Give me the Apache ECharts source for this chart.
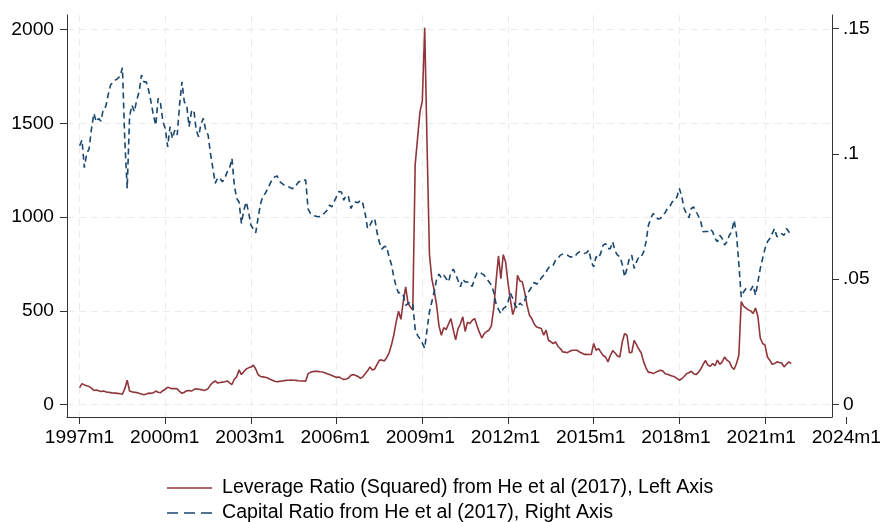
<!DOCTYPE html>
<html>
<head>
<meta charset="utf-8">
<style>
  html, body { margin: 0; padding: 0; background: #fff; }
  #chart { width: 884px; height: 522px; }
</style>
<script src="https://cdn.jsdelivr.net/npm/echarts@6/dist/echarts.min.js"></script>
</head>
<body>
<div id="chart"></div>
<script>
// monthly data, first point is 1997m1
const startYear = 1997

// leverage ratio (squared), left axis - one row per year
const leverage = [
  90, 112, 105, 100, 96, 88, 75, 78, 74, 70, 72, 68,
  66, 64, 62, 61, 60, 58, 55, 85, 130, 72, 68, 66,
  64, 60, 57, 53, 56, 61, 60, 63, 72, 66, 64, 74,
  82, 92, 88, 85, 86, 84, 70, 60, 66, 74, 75, 72,
  80, 84, 82, 80, 76, 78, 85, 105, 118, 126, 115, 118,
  120, 122, 126, 116, 107, 135, 148, 185, 160, 175, 190, 196,
  200, 210, 190, 160, 150, 148, 146, 142, 135, 130, 125, 122,
  124, 126, 128, 130, 130, 131, 130, 129, 127, 126, 126, 125,
  165, 172, 176, 178, 177, 175, 174, 170, 165, 160, 155, 150,
  145, 147, 140, 134, 137, 142, 157, 160, 155, 150, 140, 148,
  165, 180, 201, 185, 190, 215, 237, 238, 233, 250, 275, 316,
  370, 440, 498, 455, 550, 628, 540, 521, 505, 1280, 1420, 1560,
  1620, 2010, 1380, 800, 670, 610, 530, 420, 370, 410, 400, 430,
  459, 400, 345, 405, 430, 468, 390, 440, 432, 450, 459, 420,
  385, 355, 379, 390, 397, 420, 512, 660, 793, 672, 800, 761,
  650, 560, 480, 520, 690, 660, 655, 600, 530, 477, 459, 430,
  414, 410, 406, 370, 397, 343, 335, 326, 334, 310, 299, 281,
  280, 277, 285, 290, 290, 290, 281, 275, 268, 268, 267, 268,
  326, 290, 299, 280, 262, 254, 228, 262, 288, 275, 259, 254,
  334, 379, 370, 277, 278, 343, 320, 295, 275, 228, 195, 172,
  172, 165, 172, 178, 183, 180, 165, 162, 157, 152, 148, 140,
  130, 138, 150, 165, 170, 178, 165, 160, 172, 190, 215, 235,
  210, 205, 219, 207, 237, 214, 228, 254, 237, 228, 201, 187,
  219, 263, 550, 525, 515, 505, 500, 486, 515, 470, 355, 326,
  317, 254, 237, 215, 219, 228, 225, 222, 201, 215, 228, 219
]

// capital ratio, right axis - one row per year
const capitalRatio = [
  0.1032, 0.1055, 0.0945, 0.1001, 0.1020, 0.1101, 0.1161, 0.1128, 0.1141, 0.1130, 0.1181, 0.1188,
  0.1235, 0.1274, 0.1285, 0.1294, 0.1300, 0.1310, 0.1343, 0.1050, 0.0862, 0.1150, 0.1194, 0.1168,
  0.1214, 0.1247, 0.1314, 0.1287, 0.1287, 0.1254, 0.1207, 0.1154, 0.1114, 0.1221, 0.1201, 0.1128,
  0.1101, 0.1028, 0.1108, 0.1061, 0.1094, 0.1075, 0.1194, 0.1287, 0.1207, 0.1194, 0.1108, 0.1168,
  0.1175, 0.1094, 0.1068, 0.1120, 0.1141, 0.1094, 0.1075, 0.1000, 0.0942, 0.0882, 0.0905, 0.0902,
  0.0888, 0.0902, 0.0928, 0.0942, 0.0982, 0.0875, 0.0822, 0.0808, 0.0722, 0.0775, 0.0808, 0.0768,
  0.0715, 0.0700, 0.0685, 0.0745, 0.0800, 0.0830, 0.0842, 0.0860, 0.0880, 0.0900, 0.0908, 0.0912,
  0.0890, 0.0882, 0.0875, 0.0870, 0.0868, 0.0862, 0.0862, 0.0875, 0.0888, 0.0892, 0.0895, 0.0895,
  0.0780, 0.0762, 0.0755, 0.0752, 0.0749, 0.0750, 0.0755, 0.0765, 0.0775, 0.0795, 0.0788, 0.0810,
  0.0830, 0.0850, 0.0848, 0.0815, 0.0835, 0.0828, 0.0782, 0.0802, 0.0808, 0.0805, 0.0815, 0.0802,
  0.0760, 0.0702, 0.0715, 0.0735, 0.0742, 0.0685, 0.0645, 0.0620, 0.0630, 0.0630, 0.0590, 0.0560,
  0.0510, 0.0470, 0.0445, 0.0448, 0.0436, 0.0396, 0.0403, 0.0409, 0.0400, 0.0300, 0.0276, 0.0262,
  0.0245, 0.0225, 0.0300, 0.0370, 0.0410, 0.0450, 0.0500, 0.0520, 0.0505, 0.0516, 0.0503, 0.0489,
  0.0525, 0.0540, 0.0520, 0.0495, 0.0470, 0.0500, 0.0489, 0.0489, 0.0476, 0.0472, 0.0503, 0.0525,
  0.0529, 0.0522, 0.0516, 0.0503, 0.0490, 0.0476, 0.0449, 0.0400, 0.0380, 0.0363, 0.0383, 0.0390,
  0.0409, 0.0445, 0.0423, 0.0395, 0.0385, 0.0405, 0.0396, 0.0416, 0.0440, 0.0455, 0.0470, 0.0487,
  0.0480, 0.0490, 0.0505, 0.0516, 0.0529, 0.0545, 0.0556, 0.0556, 0.0576, 0.0583, 0.0596, 0.0600,
  0.0600, 0.0596, 0.0589, 0.0589, 0.0589, 0.0602, 0.0609, 0.0606, 0.0602, 0.0606, 0.0616, 0.0569,
  0.0549, 0.0590, 0.0583, 0.0605, 0.0636, 0.0642, 0.0622, 0.0622, 0.0649, 0.0612, 0.0596, 0.0590,
  0.0560, 0.0509, 0.0543, 0.0583, 0.0596, 0.0543, 0.0569, 0.0590, 0.0590, 0.0609, 0.0649, 0.0715,
  0.0742, 0.0762, 0.0752, 0.0740, 0.0742, 0.0755, 0.0765, 0.0782, 0.0790, 0.0808, 0.0815, 0.0828,
  0.0862, 0.0830, 0.0782, 0.0762, 0.0745, 0.0782, 0.0788, 0.0770, 0.0752, 0.0729, 0.0689, 0.0690,
  0.0690, 0.0700, 0.0689, 0.0662, 0.0649, 0.0675, 0.0662, 0.0636, 0.0649, 0.0675, 0.0689, 0.0735,
  0.0680, 0.0560, 0.0429, 0.0449, 0.0463, 0.0463, 0.0456, 0.0475, 0.0436, 0.0489, 0.0543, 0.0583,
  0.0622, 0.0649, 0.0662, 0.0682, 0.0702, 0.0669, 0.0675, 0.0682, 0.0675, 0.0702, 0.0689, 0.0675
]

const tickYears = [1997, 2000, 2003, 2006, 2009, 2012, 2015, 2018, 2021, 2024]
const tickLabels = ['1997m1', '2000m1', '2003m1', '2006m1', '2009m1', '2012m1', '2015m1', '2018m1', '2021m1', '2024m1']
const leftTicks = [0, 500, 1000, 1500, 2000]
const rightTicks = [0, 0.05, 0.1, 0.15]
const rightTickLabels = ['0', '.05', '.1', '.15']

const seriesNames = [
  'Leverage Ratio (Squared) from He et al (2017), Left Axis',
  'Capital Ratio from He et al (2017), Right Axis'
]

const toPoints = arr => arr.map((v, i) => [startYear + i / 12, v])

// plot region like stata: some padding around the data
const pxPerYear = 28.56
const xMin = startYear - 12.6 / pxPerYear
const plotWidth = 765
const xMax = xMin + plotWidth / pxPerYear
const labelMax = 2024.02
const labelWidth = (labelMax - xMin) * pxPerYear

const font = 'Liberation Sans, Arial, Helvetica, sans-serif'
const axisColor = '#333'
const gridLine = { color: '#ebebeb', width: 1, type: [7, 5] }
const red = '#90353b'
const blue = '#1a476f'

// legend keys: solid and dashed strokes
const solidKey = 'path://M0,0H45V1.6H0Z'
const dashedKey = 'path://M0,0H11V1.6H0Z M17,0H28V1.6H17Z M34,0H45V1.6H34Z'

const legendBase = {
  left: 162,
  itemWidth: 45,
  itemHeight: 1.6,
  textStyle: { fontSize: 19.6, color: '#000', padding: [0, 0, 0, 5] }
}

const chart = echarts.init(document.getElementById('chart'))

const option = {
  animation: false,
  textStyle: { fontFamily: font },
  grid: [
    { left: 67, top: 15, width: plotWidth, height: 402 },
    { left: 67, top: 15, width: labelWidth, height: 402 }
  ],
  legend: [
    Object.assign({}, legendBase, { top: 473, icon: solidKey, data: [seriesNames[0]] }),
    Object.assign({}, legendBase, { top: 498, icon: dashedKey, data: [seriesNames[1]] })
  ],
  xAxis: [
    {
      gridIndex: 0,
      type: 'value',
      min: xMin,
      max: xMax,
      axisLine: { show: true, onZero: false, lineStyle: { color: axisColor, width: 1 } },
      axisTick: { show: true, length: 7, customValues: tickYears.slice(0, -1), lineStyle: { color: axisColor } },
      axisLabel: { show: false },
      splitLine: { show: true, lineStyle: gridLine }
    },
    {
      gridIndex: 1,
      type: 'value',
      min: xMin,
      max: labelMax,
      axisLine: { show: false, onZero: false },
      axisTick: { show: true, length: 7, customValues: [2024], lineStyle: { color: axisColor } },
      axisLabel: {
        customValues: tickYears,
        formatter: v => tickLabels[tickYears.indexOf(Math.round(v))],
        fontSize: 19.2,
        color: '#000',
        margin: 11
      },
      splitLine: { show: false }
    }
  ],
  yAxis: [
    {
      gridIndex: 0,
      type: 'value',
      position: 'left',
      min: -66.2,
      max: 2078.5,
      axisLine: { show: true, onZero: false, lineStyle: { color: axisColor, width: 1 } },
      axisTick: { show: true, length: 7, customValues: leftTicks, lineStyle: { color: axisColor } },
      axisLabel: { customValues: leftTicks, formatter: v => String(Math.round(v)), fontSize: 19.2, color: '#000', margin: 13 },
      splitLine: { show: true, lineStyle: gridLine }
    },
    {
      gridIndex: 0,
      type: 'value',
      position: 'right',
      min: -0.00495,
      max: 0.15535,
      axisLine: { show: true, onZero: false, lineStyle: { color: axisColor, width: 1 } },
      axisTick: { show: true, length: 7, customValues: rightTicks, lineStyle: { color: axisColor } },
      axisLabel: {
        customValues: rightTicks,
        formatter: v => rightTickLabels[rightTicks.findIndex(t => Math.abs(t - v) < 1e-9)],
        fontSize: 19.2,
        color: '#000',
        margin: 11
      },
      splitLine: { show: false }
    },
    { gridIndex: 1, type: 'value', min: 0, max: 1, show: false }
  ],
  series: [
    {
      name: seriesNames[0],
      type: 'line',
      xAxisIndex: 0,
      yAxisIndex: 0,
      data: toPoints(leverage),
      symbol: 'none',
      showSymbol: false,
      itemStyle: { color: red },
      lineStyle: { color: red, width: 1.6 },
      emphasis: { disabled: true }
    },
    {
      name: seriesNames[1],
      type: 'line',
      xAxisIndex: 0,
      yAxisIndex: 1,
      data: toPoints(capitalRatio),
      symbol: 'none',
      showSymbol: false,
      itemStyle: { color: blue },
      lineStyle: { color: blue, width: 1.6, type: [6, 4] },
      emphasis: { disabled: true }
    }
  ]
}

chart.setOption(option)
</script>
</body>
</html>
